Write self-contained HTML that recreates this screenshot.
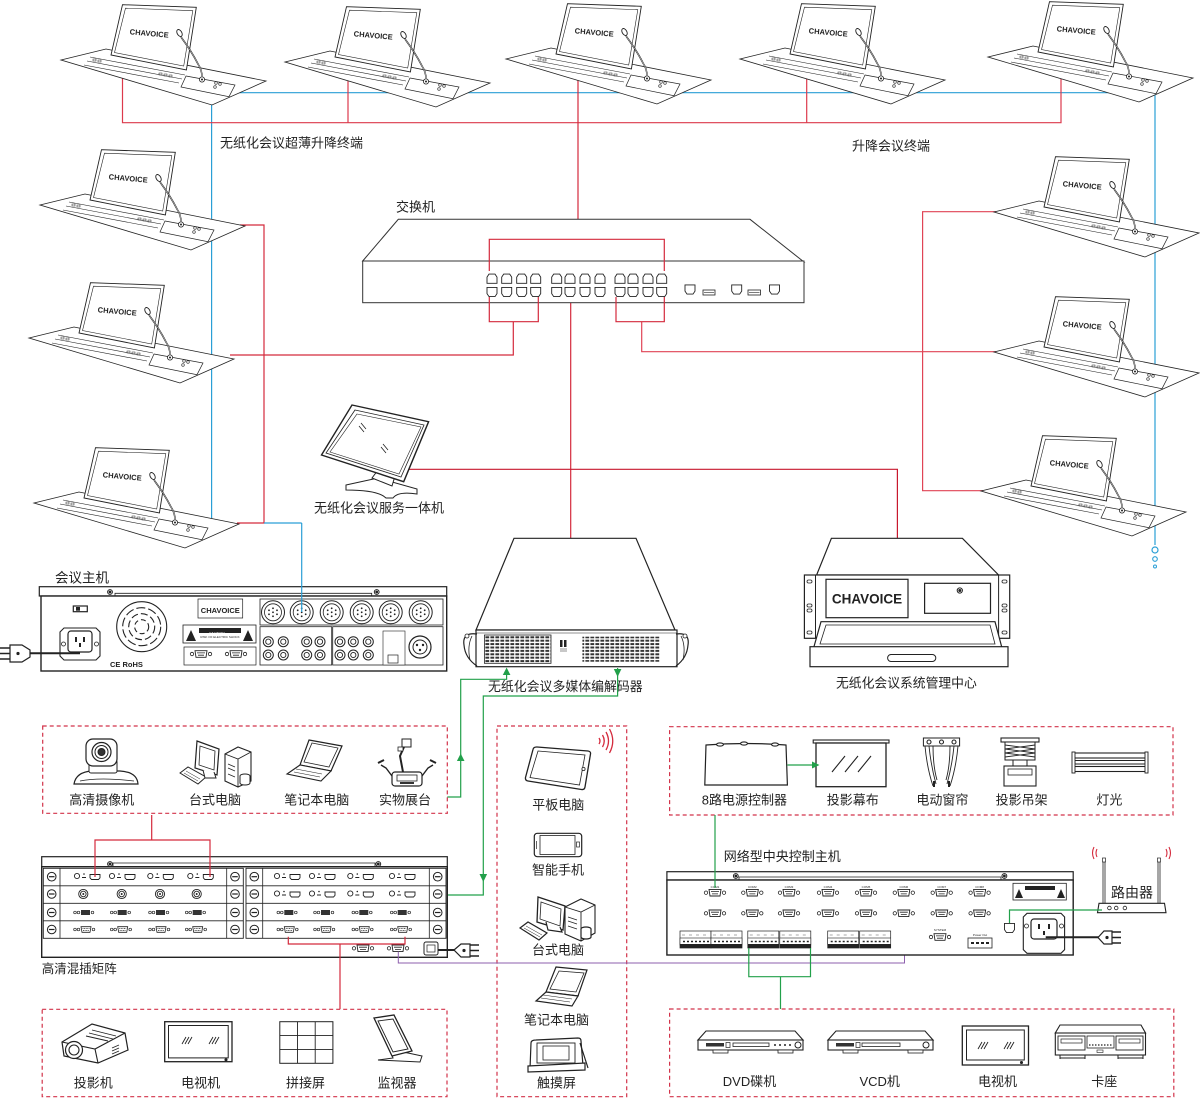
<!DOCTYPE html>
<html><head><meta charset="utf-8">
<style>
html,body{margin:0;padding:0;background:#fff;}
svg{display:block}
text{font-family:"Liberation Sans","Noto Sans CJK SC",sans-serif;fill:#222;}
</style></head>
<body>
<svg width="1200" height="1100" viewBox="0 0 1200 1100" xmlns="http://www.w3.org/2000/svg">
<defs>
<pattern id="vent" width="5" height="3.4" patternUnits="userSpaceOnUse"><rect x="0.4" y="0.5" width="3.8" height="2" fill="#333"/></pattern>
<g id="term">
 <polygon points="0,0 45,-11 205,21 151,45" fill="#fff" stroke="#222" stroke-width="0.8"/>
 <polygon points="61.5,-55.3 135.3,-52.7 125.4,10 50,-5" fill="#fff" stroke="#222" stroke-width="0.9"/>
 <polygon points="64.5,-51.8 131.8,-49.3 122.7,6 53.5,-7.5" fill="none" stroke="#222" stroke-width="0.6"/>
 <path d="M29,-3 L124,15 M26,1 L121,19 M23,5 L118,23" stroke="#222" stroke-width="0.6" fill="none"/>
 <rect x="32" y="-1" width="3" height="2" fill="none" stroke="#222" stroke-width="0.5"/>
 <rect x="37" y="0" width="3" height="2" fill="none" stroke="#222" stroke-width="0.5"/>
 <rect x="98" y="13" width="3" height="2" fill="none" stroke="#222" stroke-width="0.5"/>
 <rect x="103" y="14" width="3" height="2" fill="none" stroke="#222" stroke-width="0.5"/>
 <rect x="108" y="15" width="3" height="2" fill="none" stroke="#222" stroke-width="0.5"/>
 <polygon points="125,16 174,25 168,36.7 120,27" fill="#fff" stroke="#222" stroke-width="0.7"/>
 <circle cx="141" cy="19.5" r="2.6" fill="#fff" stroke="#222" stroke-width="0.8"/>
 <circle cx="141" cy="19.5" r="1" fill="#222"/>
 <circle cx="155" cy="23" r="1.3" fill="none" stroke="#222" stroke-width="0.6"/>
 <circle cx="159" cy="24" r="1.3" fill="none" stroke="#222" stroke-width="0.6"/>
 <circle cx="154" cy="27" r="1.3" fill="none" stroke="#222" stroke-width="0.6"/>
 <text x="88" y="-24" font-size="7.5" font-weight="bold" text-anchor="middle" transform="rotate(5 88 -24)">CHAVOICE</text>
 <path d="M120,-23 Q131,-8 137,4 Q141,10 141,17" stroke="#222" stroke-width="1.5" fill="none"/>
 <path d="M120,-23 Q131,-8 137,4 Q141,10 141,17" stroke="#fff" stroke-width="0.5" fill="none"/>
 <ellipse cx="118.5" cy="-27" rx="2.3" ry="3.8" transform="rotate(-30 118.5 -27)" fill="#fff" stroke="#222" stroke-width="0.9"/>
</g>
<g id="db9"><circle cx="-9" cy="0" r="1.7" fill="none" stroke="#222" stroke-width="0.8"/><path d="M-6,-3.3 H6 L5,3.3 H-5 Z" fill="#fff" stroke="#222" stroke-width="0.9"/><path d="M-4,-1.1 H4 M-3,1.2 H3" stroke="#222" stroke-width="0.8"/><circle cx="9" cy="0" r="1.7" fill="none" stroke="#222" stroke-width="0.8"/></g>
<g id="dvi"><circle cx="-10" cy="0" r="1.3" fill="none" stroke="#222" stroke-width="0.7"/><circle cx="-6.5" cy="0" r="1.3" fill="none" stroke="#222" stroke-width="0.7"/><rect x="-4" y="-2.5" width="9" height="5" fill="#333"/><circle cx="7.5" cy="0" r="1.3" fill="none" stroke="#222" stroke-width="0.7"/></g>
<g id="vga"><circle cx="-10" cy="0" r="1.3" fill="none" stroke="#222" stroke-width="0.7"/><circle cx="-6.5" cy="0" r="1.3" fill="none" stroke="#222" stroke-width="0.7"/><path d="M-4,-2.8 H6 L5,2.8 H-3 Z" fill="#fff" stroke="#222" stroke-width="0.8"/><path d="M-2.5,-1 H4.5 M-2,1 H4" stroke="#222" stroke-width="0.7" stroke-dasharray="1 0.6"/><circle cx="8.5" cy="0" r="1.3" fill="none" stroke="#222" stroke-width="0.7"/></g>
<g id="hdmi"><circle cx="-18" cy="-1" r="2.6" fill="#fff" stroke="#222" stroke-width="0.9"/><circle cx="-11" cy="-3" r="0.8" fill="#222"/><rect x="-13" y="0" width="4" height="1" fill="#222"/><path d="M-5,-2.5 H5 V0.8 L3.5,2.5 H-3.5 L-5,0.8 Z" fill="#fff" stroke="#222" stroke-width="0.9"/></g>
<g id="scr"><circle r="4.3" fill="#fff" stroke="#222" stroke-width="1"/><line x1="-2.8" y1="0" x2="2.8" y2="0" stroke="#222" stroke-width="1.2"/></g>
<g id="bnc"><circle r="4.6" fill="#fff" stroke="#222" stroke-width="0.9"/><circle r="2.8" fill="none" stroke="#222" stroke-width="0.9"/><circle r="1" fill="#222"/></g>
<g id="pt"><path d="M-5,4.6 V-1.6 L-3,-4.6 H3 L5,-1.6 V4.6 Z" fill="#fff" stroke="#222" stroke-width="0.9"/></g>
<g id="pb"><path d="M-5,-4.6 V1.6 L-3,4.6 H3 L5,1.6 V-4.6 Z" fill="#fff" stroke="#222" stroke-width="0.9"/></g>
<g id="rca"><circle r="5" fill="#fff" stroke="#222" stroke-width="1"/><circle r="2.6" fill="none" stroke="#222" stroke-width="0.9"/></g>
<g id="din"><circle r="11.5" fill="#fff" stroke="#222" stroke-width="1"/><circle r="8.5" fill="none" stroke="#222" stroke-width="0.8"/><g fill="#222"><circle cx="-4" cy="-2" r="0.9"/><circle cx="0" cy="-4" r="0.9"/><circle cx="4" cy="-2" r="0.9"/><circle cx="-4" cy="2" r="0.9"/><circle cx="0" cy="0" r="0.9"/><circle cx="4" cy="2" r="0.9"/><circle cx="0" cy="4" r="0.9"/></g></g>
<g id="tblk"><rect x="0" y="0" width="31" height="17" fill="#fff" stroke="#222" stroke-width="0.7"/><rect x="0" y="7" width="31" height="7" fill="#fff" stroke="#222" stroke-width="0.6"/><rect x="0" y="13" width="31" height="4" fill="#222"/><path d="M3,10.5 h2 M7,10.5 h2 M11,10.5 h2 M15,10.5 h2 M19,10.5 h2 M23,10.5 h2 M27,10.5 h2" stroke="#222" stroke-width="1.5"/><path d="M2,4 h3 M9,4 h3 M16,4 h3 M23,4 h3" stroke="#555" stroke-width="0.6"/></g>
</defs>

<!-- ============ CONNECTION LINES (under devices) ============ -->
<g fill="none" stroke-width="1.2">
 <!-- blue -->
 <path d="M211.6,92.7 H1155 V545" stroke="#2a9fd6"/>
 <path d="M211.6,92.7 V520" stroke="#2a9fd6"/>
 <!-- red top -->
 <path d="M122.5,70 V122.7 H1061 V70" stroke="#dc3a4c"/>
 <path d="M348,70 V122.7 M806.7,70 V122.7" stroke="#dc3a4c"/>
 <path d="M578,70 V239.3" stroke="#d42a3c"/>
 <!-- left column -->
 <path d="M240,225 H264 V523 H237" stroke="#d42a3c"/>
 <path d="M230,355 H513.3 V321.7" stroke="#d42a3c"/>
 <!-- right column -->
 <path d="M997,211.7 H922.6 V490.7 H985" stroke="#e04456"/>
 <path d="M641.7,321.7 V351.7 H997" stroke="#e04456"/>
 <!-- middle -->
 <path d="M570.7,297 V538.3" stroke="#d42a3c"/>
 <path d="M400,469.3 H897.4 V538" stroke="#c8182e"/>
</g>
<circle cx="1155" cy="550" r="3" fill="none" stroke="#2a9fd6" stroke-width="1.2"/>
<circle cx="1155" cy="559" r="2.3" fill="none" stroke="#2a9fd6" stroke-width="1.1"/>
<circle cx="1155" cy="566.5" r="1.5" fill="none" stroke="#2a9fd6" stroke-width="1"/>

<!-- ============ TERMINALS ============ -->
<use href="#term" transform="translate(61,60)"/>
<use href="#term" transform="translate(285,62)"/>
<use href="#term" transform="translate(506,59)"/>
<use href="#term" transform="translate(740,59)"/>
<use href="#term" transform="translate(988,57)"/>
<use href="#term" transform="translate(994,212)"/>
<use href="#term" transform="translate(994,352)"/>
<use href="#term" transform="translate(981,491)"/>
<use href="#term" transform="translate(40,205)"/>
<use href="#term" transform="translate(29,338)"/>
<use href="#term" transform="translate(34,503)"/>

<!-- labels top -->
<text x="220" y="147.5" font-size="13">无纸化会议超薄升降终端</text>
<text x="852" y="150.5" font-size="13">升降会议终端</text>
<text x="396" y="211.5" font-size="13">交换机</text>

<!-- ============ SWITCH ============ -->
<polygon points="362.7,261 398.3,219.3 750,219.3 804,262" fill="#fff" stroke="#333" stroke-width="1"/>
<rect x="362.7" y="261" width="441.3" height="41.7" fill="#fff" stroke="#333" stroke-width="1"/>
<g>
 <use href="#pt" x="492" y="278.7"/><use href="#pt" x="506.7" y="278.7"/><use href="#pt" x="521.7" y="278.7"/><use href="#pt" x="535.7" y="278.7"/>
 <use href="#pt" x="556.7" y="278.7"/><use href="#pt" x="570" y="278.7"/><use href="#pt" x="585" y="278.7"/><use href="#pt" x="600" y="278.7"/>
 <use href="#pt" x="620" y="278.7"/><use href="#pt" x="633" y="278.7"/><use href="#pt" x="648" y="278.7"/><use href="#pt" x="661.7" y="278.7"/>
 <use href="#pb" x="492" y="292"/><use href="#pb" x="506.7" y="292"/><use href="#pb" x="521.7" y="292"/><use href="#pb" x="535.7" y="292"/>
 <use href="#pb" x="556.7" y="292"/><use href="#pb" x="570" y="292"/><use href="#pb" x="585" y="292"/><use href="#pb" x="600" y="292"/>
 <use href="#pb" x="620" y="292"/><use href="#pb" x="633" y="292"/><use href="#pb" x="648" y="292"/><use href="#pb" x="661.7" y="292"/>
 <use href="#pb" x="690" y="289.5"/><use href="#pb" x="736.7" y="289.5"/><use href="#pb" x="774.5" y="289.5"/>
 <rect x="703" y="290" width="12" height="5" fill="#fff" stroke="#222" stroke-width="0.8"/><line x1="704" y1="292.5" x2="714" y2="292.5" stroke="#222" stroke-width="0.6"/>
 <rect x="748" y="290" width="12.5" height="5" fill="#fff" stroke="#222" stroke-width="0.8"/><line x1="749" y1="292.5" x2="759.5" y2="292.5" stroke="#222" stroke-width="0.6"/>
</g>
<g fill="none" stroke="#d42a3c" stroke-width="1.2">
 <path d="M489.3,271 V239.3 H664.3 V271"/>
 <path d="M489.3,297 V321.7 H538.3 V297"/>
 <path d="M616,297 V321.7 H664.3 V297"/>
</g>

<!-- ============ SERVICE MONITOR ============ -->
<g stroke="#222" fill="#fff">
 <path d="M346,485 L378,478 L417,489 L417,494 Q398,491 393,498 L386,498 Q378,490 346,490 Z" stroke-width="1"/>
 <path d="M372,478 L378,470 L395,476 L392,486 Z" stroke-width="1"/>
 <polygon points="352,405 428.6,421.7 403.7,481.7 321.5,455" stroke-width="1.4"/>
 <polygon points="355,410 424,425 401,477 326,453" fill="none" stroke-width="0.8"/>
 <polygon points="357,414 421,427 399,474 330,452" fill="none" stroke-width="0.6"/>
 <path d="M359,426 L364,432 M361,423 L366,429 M381,447 L386,453 M383,444 L388,450" stroke-width="0.8"/>
</g>
<text x="314" y="512.5" font-size="13">无纸化会议服务一体机</text>

<!-- ============ MEETING HOST ============ -->
<text x="55" y="582.5" font-size="13.5">会议主机</text>
<g stroke="#222" fill="#fff">
 <rect x="39.3" y="586.7" width="407.4" height="9.3" stroke-width="1.2"/>
 <path d="M115,596 V593.3 H371.7 V596" fill="none" stroke-width="0.8"/>
 <circle cx="110" cy="592" r="2.4" stroke-width="1"/><circle cx="110" cy="592" r="0.9" fill="#222"/>
 <circle cx="376.7" cy="592" r="2.4" stroke-width="1"/><circle cx="376.7" cy="592" r="0.9" fill="#222"/>
 <rect x="41" y="596" width="405.7" height="75" stroke-width="1.4"/>
 <rect x="73.3" y="606" width="14" height="5.7" stroke-width="1.2"/><rect x="76" y="607" width="4" height="3.7" fill="#222" stroke="none"/>
 <path d="M60,632 L64,628 H96 L100,632 V656 L96,660 H64 L60,656 Z" stroke-width="1.1"/>
 <rect x="68" y="631" width="24" height="21" rx="3" stroke-width="1.2"/>
 <circle cx="63.5" cy="644" r="2" stroke-width="0.8"/><circle cx="96.5" cy="644" r="2" stroke-width="0.8"/>
 <rect x="75" y="637" width="2" height="5" fill="#222" stroke="none"/><rect x="83" y="637" width="2" height="5" fill="#222" stroke="none"/><rect x="79" y="643" width="2" height="4" fill="#222" stroke="none"/>
 <g fill="none" stroke-width="1.1">
  <circle cx="141.7" cy="626.7" r="25"/>
  <circle cx="141.7" cy="626.7" r="19" stroke-dasharray="9 3"/>
  <circle cx="141.7" cy="626.7" r="13" stroke-dasharray="7 3"/>
  <circle cx="141.7" cy="626.7" r="7" stroke-dasharray="5 3"/>
 </g>
 <rect x="198" y="599" width="44.7" height="19" stroke-width="0.7"/>
 <rect x="183" y="625" width="73" height="18" stroke-width="0.8"/>
 <rect x="199" y="628" width="42" height="5" fill="#222" stroke="none"/>
 <polygon points="186,641 191,630 196,641" fill="#222" stroke="none"/>
 <polygon points="243,641 248,630 253,641" fill="#222" stroke="none"/>
 <rect x="184" y="647" width="72" height="18" stroke-width="0.7"/>
 <use href="#db9" x="201" y="654"/><use href="#db9" x="236" y="654"/>
 <rect x="260" y="599" width="183" height="26" stroke-width="0.8"/>
 <rect x="260" y="626.7" width="71.7" height="38.3" stroke-width="0.8"/>
 <rect x="332.7" y="626.7" width="110.3" height="38.3" stroke-width="0.8"/>
 <rect x="383" y="631" width="22" height="34" stroke-width="0.6"/>
 <rect x="388" y="655" width="10" height="8" stroke-width="0.7"/>
</g>
<text x="220.3" y="613" font-size="7.5" font-weight="bold" text-anchor="middle">CHAVOICE</text>
<text x="209" y="634.5" font-size="3.5" fill="#fff" style="fill:#fff">CAUTION</text>
<text x="220" y="638" font-size="3" text-anchor="middle">RISK OF ELECTRIC SHOCK</text>
<text x="110" y="667" font-size="7.5" font-weight="bold">CE RoHS</text>
<use href="#din" x="273" y="612.3"/><use href="#din" x="301.7" y="612.3"/><use href="#din" x="331.7" y="612.3"/>
<use href="#din" x="361.7" y="612.3"/><use href="#din" x="390.7" y="612.3"/><use href="#din" x="420.7" y="612.3"/>
<use href="#rca" x="268.3" y="641.7"/><use href="#rca" x="283.3" y="641.7"/><use href="#rca" x="268.3" y="655"/><use href="#rca" x="283.3" y="655"/>
<use href="#rca" x="306.7" y="641.7"/><use href="#rca" x="320" y="641.7"/><use href="#rca" x="306.7" y="655"/><use href="#rca" x="320" y="655"/>
<use href="#rca" x="340" y="641.7"/><use href="#rca" x="353.3" y="641.7"/><use href="#rca" x="368.3" y="641.7"/>
<use href="#rca" x="340" y="655"/><use href="#rca" x="353.3" y="655"/><use href="#rca" x="368.3" y="655"/>
<circle cx="420" cy="647" r="11" fill="#fff" stroke="#222" stroke-width="1.2"/>
<circle cx="420" cy="647" r="7" fill="#fff" stroke="#222" stroke-width="1"/>
<circle cx="417" cy="645" r="1.2" fill="#222"/><circle cx="423" cy="645" r="1.2" fill="#222"/><circle cx="420" cy="650" r="1.2" fill="#222"/>
<!-- plug -->
<path d="M30,653.3 H80" stroke="#222" stroke-width="2" fill="none"/>
<path d="M10,645 H22 L30,650 V657 L22,662 H10 Z" fill="#fff" stroke="#222" stroke-width="1.2"/>
<circle cx="18" cy="653.5" r="1.6" fill="#222"/>
<path d="M0,648 H10 M0,653.5 H10 M0,659 H10" stroke="#222" stroke-width="1.5"/>
<path d="M301.7,523 V612" stroke="#2a9fd6" stroke-width="1.2" fill="none"/>
<path d="M264,523 H301.7" stroke="#2a9fd6" stroke-width="1.2" fill="none"/>

<!-- ============ ENCODER ============ -->
<g stroke="#222" fill="#fff">
 <polygon points="514,538.3 636,538.3 675,630 476,630" stroke-width="1.2"/>
 <rect x="476" y="630" width="201" height="36.7" stroke-width="1.2"/>
 <line x1="476" y1="633" x2="677" y2="633" stroke-width="0.6"/>
 <path d="M477,634 Q462,632 464,645 Q465,658 477,666" fill="none" stroke-width="1.2"/>
 <path d="M472,636 Q467,646 470,660" fill="none" stroke-width="0.8"/>
 <circle cx="467" cy="636" r="2" stroke-width="0.8"/>
 <path d="M676,634 Q690,632 688,645 Q687,658 676,666" fill="none" stroke-width="1.2"/>
 <path d="M681,636 Q686,646 683,660" fill="none" stroke-width="0.8"/>
 <circle cx="685" cy="636" r="2" stroke-width="0.8"/>
 <rect x="484.4" y="635" width="66.6" height="28.3" fill="url(#vent)" stroke-width="0.8"/>
 <rect x="582.4" y="636.7" width="77.6" height="25" fill="url(#vent)" stroke-width="0"/>
 <rect x="560" y="640" width="2.5" height="7" fill="#222" stroke="none"/><rect x="564" y="640" width="2.5" height="7" fill="#222" stroke="none"/>
 <path d="M560,649 h7 M560,651 h7" stroke-width="0.6"/>
</g>
<text x="488" y="691" font-size="12.9">无纸化会议多媒体编解码器</text>

<!-- ============ MGMT CENTER ============ -->
<g stroke="#222" fill="#fff">
 <polygon points="831.4,538.3 962.4,538.3 998.6,575 816.6,575" stroke-width="1.2"/>
 <rect x="804.4" y="575" width="205.3" height="63.3" stroke-width="1.2"/>
 <line x1="815.5" y1="575" x2="815.5" y2="638.3" stroke-width="1"/>
 <line x1="998.6" y1="575" x2="998.6" y2="638.3" stroke-width="1"/>
 <rect x="807" y="580" width="5" height="3" rx="1.5" stroke-width="0.8"/><rect x="807" y="604" width="5" height="3" rx="1.5" stroke-width="0.8"/><rect x="807" y="609" width="5" height="3" rx="1.5" stroke-width="0.8"/><rect x="807" y="631" width="5" height="3" rx="1.5" stroke-width="0.8"/>
 <rect x="1002" y="580" width="5" height="3" rx="1.5" stroke-width="0.8"/><rect x="1002" y="604" width="5" height="3" rx="1.5" stroke-width="0.8"/><rect x="1002" y="609" width="5" height="3" rx="1.5" stroke-width="0.8"/><rect x="1002" y="631" width="5" height="3" rx="1.5" stroke-width="0.8"/>
 <rect x="826" y="579.3" width="82" height="38.4" stroke-width="1.2"/>
 <rect x="924.6" y="583.3" width="65.9" height="30" stroke-width="1.2"/>
 <circle cx="959.8" cy="590.5" r="2.6" stroke-width="1"/><circle cx="959.8" cy="590.5" r="1" fill="#222"/>
 <polygon points="821,621.7 995,621.7 1002,648 813.6,648" stroke-width="1.2"/>
 <polygon points="826,625 990,625 995,644 820,644" fill="none" stroke-width="0.8"/>
 <rect x="810" y="646.7" width="198" height="20" stroke-width="1.2"/>
 <rect x="887.6" y="654.5" width="48.2" height="7" rx="3.5" stroke-width="1"/>
</g>
<text x="867" y="603.5" font-size="13.5" font-weight="bold" text-anchor="middle">CHAVOICE</text>
<text x="836" y="687.5" font-size="12.8">无纸化会议系统管理中心</text>

<!-- ============ GREEN ARROWS ENCODER ============ -->
<g fill="none" stroke="#22a04a" stroke-width="1.2">
 <path d="M447.3,797 H460.7 V679.3 H506.6 V673"/>
 <path d="M418.3,895 H483.3 V696 H617.6 V668"/>
</g>
<g fill="#22a04a">
 <polygon points="506.6,667.5 502.8,675 510.4,675"/>
 <polygon points="460.7,753.5 456.9,761 464.5,761"/>
 <polygon points="613.8,669 621.4,669 617.6,677"/>
 <polygon points="479.5,874 487.1,874 483.3,882"/>
</g>

<!-- ============ DASHED BOXES ============ -->
<g fill="none" stroke="#d2334a" stroke-width="1.2" stroke-dasharray="4 3">
 <rect x="42.7" y="726" width="404.6" height="87.3"/>
 <rect x="497" y="726" width="129.7" height="370.7"/>
 <rect x="669.6" y="726.7" width="503.4" height="88.3"/>
 <rect x="42.2" y="1009.3" width="404.8" height="87.4"/>
 <rect x="669.6" y="1009" width="504.2" height="87.7"/>
</g>

<!-- ============ TOP LEFT BOX ICONS ============ -->
<g stroke="#222" fill="#fff" stroke-width="1">
 <!-- camera -->
 <path d="M74,784 Q76,772 92,771 L120,771 Q137,772 138,784 Z" stroke-width="1.2"/>
 <path d="M80,781 Q100,777 134,781" fill="none" stroke-width="0.7"/>
 <rect x="89" y="760" width="28" height="13" rx="2"/>
 <rect x="86" y="739" width="31" height="27" rx="7" stroke-width="1.2"/>
 <circle cx="101.5" cy="752" r="9.5" stroke-width="1.2"/>
 <circle cx="101.5" cy="752" r="6.5"/>
 <circle cx="101.5" cy="752" r="3.5" fill="#333"/>
 <!-- desktop -->
 <polygon points="180,773 188,767 206,777 198,784"/>
 <path d="M184,773 L198,781 M186,771 L200,779" fill="none" stroke-width="0.5"/>
 <polygon points="197,741 219,749 217,775 195,768" stroke-width="1.2"/>
 <polygon points="200,746 215,751 214,770 199,765" fill="none" stroke-width="0.8"/>
 <path d="M203,770 L205,778 L216,778 L214,772" stroke-width="1"/>
 <polygon points="225,754 238,747 251,752 251,781 238,787 225,781" stroke-width="1.1"/>
 <path d="M238,759 V787 M225,754 L238,759 L251,752" fill="none" stroke-width="0.9"/>
 <path d="M228,764 L235,767 M228,768 L235,771 M228,774 L235,777" fill="none" stroke-width="0.7"/>
 <ellipse cx="245" cy="776" rx="5" ry="2"/><path d="M240,776 V783 A5,2 0 0 0 250,783 V776" />
 <!-- laptop -->
 <polygon points="309,740 342,746 331,771 300,765" stroke-width="1.2"/>
 <polygon points="312,743 338,748 329,767 304,762" fill="none" stroke-width="0.8"/>
 <polygon points="300,765 331,771 321,781 287,774" stroke-width="1.1"/>
 <path d="M296,769 L322,774 M294,772 L320,777" fill="none" stroke-width="0.6"/>
 <!-- visualizer -->
 <rect x="392" y="772" width="30" height="14" rx="3" stroke-width="1.2"/>
 <rect x="397" y="775" width="20" height="6" fill="none" stroke-width="0.8"/>
 <rect x="400" y="782" width="14" height="2" fill="#333" stroke="none"/>
 <path d="M403,772 L400,756 L404,747" fill="none" stroke-width="2"/>
 <rect x="402" y="739" width="9" height="8" stroke-width="1"/>
 <rect x="398" y="747" width="5" height="4" stroke-width="0.8"/>
 <path d="M392,776 L386,768 L381,765 M422,776 L428,768 L433,765" fill="none" stroke-width="1.4"/>
 <path d="M378,763 L384,760 M430,760 L436,763" fill="none" stroke-width="2"/>
</g>
<g font-size="13" text-anchor="middle">
 <text x="101.7" y="804.5">高清摄像机</text>
 <text x="215" y="804.5">台式电脑</text>
 <text x="316.7" y="804.5">笔记本电脑</text>
 <text x="405" y="804.5">实物展台</text>
</g>

<!-- ============ MATRIX ============ -->
<g stroke="#222" fill="#fff">
 <rect x="41.7" y="856.7" width="405.6" height="10" stroke-width="1.2"/>
 <path d="M113,866.7 V863 H375 V866.7" fill="none" stroke-width="0.8"/>
 <circle cx="110" cy="864" r="2.4"/><circle cx="110" cy="864" r="0.9" fill="#222"/>
 <circle cx="378.3" cy="864" r="2.4"/><circle cx="378.3" cy="864" r="0.9" fill="#222"/>
 <rect x="41.7" y="866.7" width="405.6" height="90.6" stroke-width="1.4"/>
 <rect x="43.3" y="868.3" width="200" height="70" stroke-width="0.9"/>
 <rect x="246" y="868.3" width="200" height="70" stroke-width="0.9"/>
 <path d="M60,868.3 V938.3 M226.7,868.3 V938.3 M262.7,868.3 V938.3 M429.3,868.3 V938.3" stroke-width="0.8"/>
 <path d="M43.3,885.8 H243.3 M43.3,903.3 H243.3 M43.3,920.8 H243.3 M246,885.8 H446 M246,903.3 H446 M246,920.8 H446" stroke-width="0.8"/>
</g>
<g>
 <use href="#scr" x="51.7" y="876.7"/><use href="#scr" x="51.7" y="894"/><use href="#scr" x="51.7" y="912.5"/><use href="#scr" x="51.7" y="929.5"/>
 <use href="#scr" x="235" y="876.7"/><use href="#scr" x="235" y="894"/><use href="#scr" x="235" y="912.5"/><use href="#scr" x="235" y="929.5"/>
 <use href="#scr" x="254.3" y="876.7"/><use href="#scr" x="254.3" y="894"/><use href="#scr" x="254.3" y="912.5"/><use href="#scr" x="254.3" y="929.5"/>
 <use href="#scr" x="437.7" y="876.7"/><use href="#scr" x="437.7" y="894"/><use href="#scr" x="437.7" y="912.5"/><use href="#scr" x="437.7" y="929.5"/>
 <use href="#hdmi" x="95" y="877"/><use href="#hdmi" x="130" y="877"/><use href="#hdmi" x="168.3" y="877"/><use href="#hdmi" x="208.3" y="877"/>
 <use href="#bnc" x="83.3" y="894"/><use href="#bnc" x="121.7" y="894"/><use href="#bnc" x="160" y="894"/><use href="#bnc" x="196.7" y="894"/>
 <use href="#dvi" x="85" y="912.5"/><use href="#dvi" x="121.7" y="912.5"/><use href="#dvi" x="160" y="912.5"/><use href="#dvi" x="196.7" y="912.5"/>
 <use href="#vga" x="85" y="929.5"/><use href="#vga" x="121.7" y="929.5"/><use href="#vga" x="160" y="929.5"/><use href="#vga" x="196.7" y="929.5"/>
 <use href="#hdmi" x="295" y="877"/><use href="#hdmi" x="330" y="877"/><use href="#hdmi" x="368.3" y="877"/><use href="#hdmi" x="410" y="877"/>
 <use href="#hdmi" x="295" y="894.5"/><use href="#hdmi" x="330" y="894.5"/><use href="#hdmi" x="368.3" y="894.5"/><use href="#hdmi" x="410" y="894.5"/>
 <use href="#dvi" x="288.3" y="912.5"/><use href="#dvi" x="325" y="912.5"/><use href="#dvi" x="363.3" y="912.5"/><use href="#dvi" x="401.7" y="912.5"/>
 <use href="#vga" x="288.3" y="929.5"/><use href="#vga" x="325" y="929.5"/><use href="#vga" x="363.3" y="929.5"/><use href="#vga" x="401.7" y="929.5"/>
 <use href="#db9" x="363" y="948.3"/><use href="#db9" x="398" y="948.3"/>
 <rect x="424" y="942" width="14" height="13" rx="2" fill="#fff" stroke="#222" stroke-width="1"/>
 <rect x="427" y="945" width="8" height="7" fill="none" stroke="#222" stroke-width="0.7"/>
</g>
<!-- matrix plug -->
<path d="M438,950 H456" stroke="#222" stroke-width="2"/>
<path d="M454,950 L461,944 H470 V957 H461 Z" fill="#fff" stroke="#222" stroke-width="1.2"/>
<circle cx="464" cy="950.5" r="1.6" fill="#222"/>
<path d="M470,945 H479 M470,950.5 H479 M470,956 H479" stroke="#222" stroke-width="1.5"/>
<text x="41.7" y="973" font-size="12.5">高清混插矩阵</text>

<!-- lines over matrix -->
<g fill="none" stroke-width="1.2">
 <path d="M151.7,815 V840 M95,877 V840 H210 V877" stroke="#d42a3c"/>
 <path d="M288.3,936.7 V944 H405 V936.7 M340,944 V1009" stroke="#d42a3c"/>
 <path d="M398.3,951.7 V963 H904.5 V917" stroke="#8e5fae" stroke-width="1"/>
</g>

<!-- ============ BOTTOM LEFT BOX ICONS ============ -->
<g stroke="#222" fill="#fff" stroke-width="1.1">
 <!-- projector -->
 <path d="M62,1042 L92,1024 L125,1033 L128,1050 L98,1063 L64,1056 Z" stroke-width="1.2"/>
 <path d="M62,1042 L95,1049 L125,1033 M95,1049 L98,1063" fill="none"/>
 <path d="M92,1030 L116,1036 M89,1033 L113,1039 M86,1036 L108,1041" fill="none" stroke-width="0.9"/>
 <circle cx="74" cy="1050" r="8.5" stroke-width="1.2"/>
 <circle cx="74" cy="1050" r="5"/>
 <path d="M112,1048 L119,1045 M112,1051 L119,1048 M112,1054 L119,1051" fill="none" stroke-width="0.8"/>
 <!-- TV -->
 <rect x="164.7" y="1021.7" width="67.3" height="40" stroke-width="1.3"/>
 <rect x="168.5" y="1025.5" width="59.7" height="32.4" stroke-width="1"/>
 <path d="M182,1044 L186,1037 M185,1044 L189,1037 M188,1044 L192,1037 M209,1044 L213,1037 M212,1044 L216,1037 M215,1044 L219,1037" fill="none" stroke-width="0.9"/>
 <circle cx="226" cy="1059.8" r="1" fill="#222"/>
 <!-- tile -->
 <rect x="279.8" y="1021.7" width="53.1" height="41.6" fill="#fff" stroke-width="1"/>
 <path d="M297.5,1021.7 V1063.3 M315.2,1021.7 V1063.3 M279.8,1035.6 H332.9 M279.8,1049.4 H332.9" fill="none" stroke-width="0.9"/>
 <!-- monitor -->
 <path d="M390,1050 L393,1058 L378,1060 L420,1062 L422,1056 L408,1053 Z" stroke-width="1"/>
 <polygon points="374,1018 394,1015 412,1051 392,1056" stroke-width="1.3"/>
 <polygon points="378,1021 393,1019 408,1049 393,1052" fill="none" stroke-width="0.9"/>
</g>
<g font-size="13" text-anchor="middle">
 <text x="93.3" y="1087.5">投影机</text>
 <text x="200.6" y="1087.5">电视机</text>
 <text x="305.5" y="1087.5">拼接屏</text>
 <text x="397" y="1087.5">监视器</text>
</g>

<!-- ============ MIDDLE BOX ICONS ============ -->
<g stroke="#222" fill="#fff" stroke-width="1.2">
 <!-- tablet -->
 <path d="M537,747 L588,751 Q591,751.5 590.5,754 L585,787 Q584.5,790 581.5,789.5 L528,781 Q525,780.5 525.5,777.5 L533,749.5 Q533.5,746.8 537,747 Z" stroke-width="1.3"/>
 <polygon points="538,751 585,755 579.5,785 530,777.5" fill="none" stroke-width="0.8"/>
 <circle cx="583.5" cy="769" r="1.6" stroke-width="0.8"/>
 <!-- phone -->
 <rect x="534.3" y="833.3" width="47.4" height="23.4" rx="3" stroke-width="1.2"/>
 <rect x="540" y="835.5" width="35" height="19" fill="none" stroke-width="0.8"/>
 <rect x="576.5" y="842" width="3" height="5" stroke-width="0.7"/>
 <path d="M536.5,841 V849" stroke-width="0.7"/>
 <!-- desktop -->
 <polygon points="520,928 528,922 547,933 539,940"/>
 <path d="M524,928 L540,937 M526,926 L542,935" fill="none" stroke-width="0.5"/>
 <polygon points="538,897 565,906 563,930 537,922" stroke-width="1.3"/>
 <polygon points="541,902 561,909 560,926 540,919" fill="none" stroke-width="0.8"/>
 <path d="M546,922 L548,930 L562,932 L560,927" />
 <polygon points="565,907 581,899 595,905 595,933 581,941 565,934" stroke-width="1.1"/>
 <path d="M581,912 V941 M565,907 L581,912 L595,905" fill="none" stroke-width="0.9"/>
 <path d="M568,917 L577,920 M568,921 L577,924 M568,926 L577,929" fill="none" stroke-width="0.7"/>
 <ellipse cx="586" cy="929" rx="5" ry="2"/><path d="M581,929 V937 A5,2 0 0 0 591,937 V929"/>
 <!-- laptop -->
 <polygon points="556,967 587,970 578,996 546,992" stroke-width="1.2"/>
 <polygon points="559,971 584,973 576,992 550,989" fill="none" stroke-width="0.8"/>
 <polygon points="546,992 578,996 572,1006 536,1001"/>
 <path d="M543,995 L572,999 M541,998 L570,1002" fill="none" stroke-width="0.6"/>
 <!-- touch screen -->
 <path d="M536,1040 L578,1038 Q581,1038 581,1041 L583,1066 L530,1069 L531,1043 Q531,1040 536,1040 Z" stroke-width="1.2"/>
 <rect x="537" y="1043" width="38" height="20" fill="none" stroke-width="0.9"/>
 <rect x="543" y="1046" width="26" height="14" fill="none" stroke-width="0.8"/>
 <path d="M528,1066 L585,1063 L585,1070 L528,1072 Z"/>
 <path d="M580,1043 L588,1068" fill="none" stroke-width="1.2"/>
</g>
<g fill="none" stroke="#d42a3c" stroke-width="1.3">
 <path d="M599,738 Q601,741 599,744"/>
 <path d="M602.5,735 Q606,741 602.5,747"/>
 <path d="M606,732 Q611,741 606,750"/>
 <path d="M609.5,729 Q616,741 609.5,753"/>
</g>
<g font-size="13" text-anchor="middle">
 <text x="558.3" y="809.5">平板电脑</text>
 <text x="558" y="874.5">智能手机</text>
 <text x="558" y="954.5">台式电脑</text>
 <text x="556.5" y="1024.5">笔记本电脑</text>
 <text x="556.5" y="1087.5">触摸屏</text>
</g>

<!-- ============ TOP RIGHT BOX ICONS ============ -->
<g stroke="#222" fill="#fff" stroke-width="1.1">
 <!-- power ctrl -->
 <path d="M706,745 Q746,742 786,745 L787.4,785 L704.8,785 Z" stroke-width="1.2"/>
 <ellipse cx="720" cy="744.5" rx="3.5" ry="1.6"/><ellipse cx="744" cy="743.5" rx="3.5" ry="1.6"/><ellipse cx="775" cy="744.5" rx="3.5" ry="1.6"/>
 <!-- projection screen -->
 <rect x="813.2" y="740" width="75.8" height="3" fill="#fff" stroke-width="1.1"/>
 <rect x="816" y="743" width="70" height="43.7" stroke-width="1.3"/>
 <path d="M832,772 L845,756 M845,772 L858,756 M858,772 L871,756" fill="none" stroke-width="1.1"/>
 <!-- curtain -->
 <rect x="923.4" y="738" width="36.2" height="8" stroke-width="1"/>
 <circle cx="929" cy="742" r="2" fill="none"/><circle cx="941.5" cy="742" r="2" fill="none"/><circle cx="954" cy="742" r="2" fill="none"/>
 <path d="M925,746 Q927,768 933,786 M929,746 Q931,766 936,784 M933,746 Q933,766 937,780" fill="none" stroke-width="0.9"/>
 <path d="M958,746 Q956,768 950,786 M954,746 Q952,766 947,784 M950,746 Q950,766 946,780" fill="none" stroke-width="0.9"/>
 <path d="M934,781 L934,787 M949,781 L949,787" stroke-width="2"/>
 <!-- projector lift -->
 <rect x="1001" y="738" width="38" height="4" stroke-width="1.1"/>
 <rect x="1005" y="742" width="30" height="18" stroke-width="1"/>
 <path d="M1005,745 L1035,749 L1005,753 L1035,757 M1035,745 L1005,749 L1035,753 L1005,757" fill="none" stroke-width="0.9"/>
 <path d="M1013,760 V767 M1027,760 V767" stroke-width="1"/>
 <rect x="1004" y="766" width="32" height="20" stroke-width="1.1"/>
 <rect x="1008" y="769" width="24" height="6" fill="none" stroke-width="0.8"/>
 <!-- light -->
 <rect x="1073" y="753" width="74" height="5" stroke-width="1.1"/>
 <rect x="1075" y="760.5" width="70" height="3.5" stroke-width="1"/>
 <rect x="1073" y="766.5" width="74" height="5" stroke-width="1.1"/>
 <rect x="1072" y="752" width="3" height="21" fill="#fff" stroke-width="0.9"/>
 <rect x="1145" y="752" width="3" height="21" fill="#fff" stroke-width="0.9"/>
</g>
<path d="M787.4,765 H817" stroke="#22a04a" stroke-width="1.2"/>
<polygon points="812,761.5 812,768.5 819.5,765" fill="#22a04a"/>
<g font-size="13" text-anchor="middle">
 <text x="744.4" y="804.5">8路电源控制器</text>
 <text x="852.8" y="804.5">投影幕布</text>
 <text x="942.4" y="804.5">电动窗帘</text>
 <text x="1021.6" y="804.5">投影吊架</text>
 <text x="1109.4" y="804.5">灯光</text>
</g>

<!-- ============ CONTROL HOST ============ -->
<text x="723.7" y="861" font-size="13">网络型中央控制主机</text>
<g stroke="#222" fill="#fff">
 <rect x="666.9" y="871.7" width="406.3" height="8.3" stroke-width="1.2"/>
 <path d="M739,880 V877 H1001 V880" fill="none" stroke-width="0.8"/>
 <circle cx="735.8" cy="876" r="2.4"/><circle cx="735.8" cy="876" r="0.9" fill="#222"/>
 <circle cx="1004.4" cy="876" r="2.4"/><circle cx="1004.4" cy="876" r="0.9" fill="#222"/>
 <rect x="666.9" y="880" width="406.3" height="75" stroke-width="1.4"/>
 <rect x="1013" y="883.3" width="53.3" height="16.7" stroke-width="0.8"/>
 <rect x="1025" y="886" width="30" height="4" fill="#222" stroke="none"/>
 <polygon points="1015,898 1019,889 1023,898" fill="#222" stroke="none"/>
 <polygon points="1057,898 1061,889 1065,898" fill="#222" stroke="none"/>
</g>
<g>
 <use href="#db9" x="715" y="892.7"/><use href="#db9" x="752.3" y="892.7"/><use href="#db9" x="789" y="892.7"/><use href="#db9" x="828" y="892.7"/>
 <use href="#db9" x="866" y="892.7"/><use href="#db9" x="903.8" y="892.7"/><use href="#db9" x="941.7" y="892.7"/><use href="#db9" x="979.6" y="892.7"/>
 <use href="#db9" x="715" y="913.3"/><use href="#db9" x="752.3" y="913.3"/><use href="#db9" x="789" y="913.3"/><use href="#db9" x="828" y="913.3"/>
 <use href="#db9" x="866" y="913.3"/><use href="#db9" x="903.8" y="913.3"/><use href="#db9" x="941.7" y="913.3"/><use href="#db9" x="979.6" y="913.3"/>
 <use href="#tblk" x="680" y="931"/><use href="#tblk" x="711" y="931"/>
 <use href="#tblk" x="747.8" y="931"/><use href="#tblk" x="779.8" y="931"/>
 <use href="#tblk" x="827.7" y="931"/><use href="#tblk" x="859.7" y="931"/>
 <use href="#db9" x="940" y="937"/>
 <rect x="968" y="938" width="24" height="10" fill="#fff" stroke="#222" stroke-width="0.8"/>
 <path d="M971,943 h3 M976,943 h3 M981,943 h3 M986,943 h3" stroke="#222" stroke-width="2"/>
 <use href="#pb" x="1009.5" y="928"/>
 <path d="M1023.3,917 L1027,913.3 H1061 L1064.6,917 V949.6 L1061,953.3 H1027 L1023.3,949.6 Z" fill="#fff" stroke="#222" stroke-width="1.1"/>
 <rect x="1031" y="919" width="26" height="20" rx="3" fill="#fff" stroke="#222" stroke-width="1.2"/>
 <circle cx="1026.5" cy="926" r="2" fill="none" stroke="#222" stroke-width="0.8"/><circle cx="1061.5" cy="926" r="2" fill="none" stroke="#222" stroke-width="0.8"/>
 <rect x="1038" y="924" width="2" height="5" fill="#222"/><rect x="1048" y="924" width="2" height="5" fill="#222"/><rect x="1043" y="931" width="2" height="4" fill="#222"/>
</g>
<g font-size="3" text-anchor="middle" fill="#333">
 <text x="715" y="888">COM1</text><text x="752.3" y="888">COM2</text><text x="789" y="888">COM3</text><text x="828" y="888">COM4</text>
 <text x="866" y="888">COM5</text><text x="903.8" y="888">COM6</text><text x="941.7" y="888">COM7</text><text x="979.6" y="888">COM8</text>
 <text x="940" y="931">SYSTEM</text><text x="980" y="936">Power Out</text>
</g>
<!-- control host plug -->
<path d="M1045.7,937.3 H1100" stroke="#222" stroke-width="2"/>
<path d="M1098,937.5 L1104,931 H1112 V944 H1104 Z" fill="#fff" stroke="#222" stroke-width="1.2"/>
<circle cx="1107" cy="937.5" r="1.6" fill="#222"/>
<path d="M1112,932 H1121 M1112,937.5 H1121 M1112,943 H1121" stroke="#222" stroke-width="1.5"/>

<!-- router -->
<g stroke="#222" fill="#fff">
 <path d="M1103,860 V904 M1105,860 V904 M1158,860 V904 M1160,860 V904" stroke-width="0.8"/>
 <rect x="1102.5" y="858" width="3" height="4" stroke-width="0.7"/>
 <rect x="1157.5" y="858" width="3" height="4" stroke-width="0.7"/>
 <path d="M1099,903.3 H1164.5 L1166,912.7 H1097.5 Z" stroke-width="1.1"/>
 <circle cx="1109.4" cy="908" r="1.8" stroke-width="0.8"/><circle cx="1116.2" cy="908" r="1.8" stroke-width="0.8"/><circle cx="1124.9" cy="908" r="1.8" stroke-width="0.8"/>
</g>
<g fill="none" stroke="#d42a3c" stroke-width="1.1">
 <path d="M1097,849 Q1095,853 1097,857 M1094,847 Q1091,853 1094,859"/>
 <path d="M1166,849 Q1168,853 1166,857 M1169,847 Q1172,853 1169,859"/>
</g>
<text x="1111" y="897.5" font-size="14">路由器</text>

<!-- green lines control -->
<g fill="none" stroke="#22a04a" stroke-width="1.2">
 <path d="M715,815 V888"/>
 <path d="M1009.5,923 V910 H1102"/>
 <path d="M748.8,948 V976.7 H810.5 V948 M780.5,976.7 V1009"/>
</g>

<!-- ============ BOTTOM RIGHT ICONS ============ -->
<g stroke="#222" fill="#fff" stroke-width="1.1">
 <!-- DVD -->
 <path d="M706,1031 H795 L803,1040 H698 Z"/>
 <rect x="698" y="1040" width="105" height="10"/>
 <rect x="713" y="1050" width="15" height="3" stroke-width="0.8"/><rect x="778" y="1050" width="15" height="3" stroke-width="0.8"/>
 <rect x="706" y="1043" width="18" height="3.5" fill="#333" stroke="none"/>
 <rect x="726" y="1042.5" width="4" height="5" stroke-width="0.7"/>
 <rect x="733" y="1043" width="36" height="3.5" stroke-width="0.8"/>
 <path d="M774,1045 h2 M779,1045 h2 M784,1045 h2 M789,1045 h2" stroke-width="1.6"/>
 <circle cx="798" cy="1045" r="3" stroke-width="1"/>
 <!-- VCD -->
 <path d="M836,1031 H925 L933,1040 H828 Z"/>
 <rect x="828" y="1040" width="105" height="10"/>
 <rect x="843" y="1050" width="15" height="3" stroke-width="0.8"/><rect x="908" y="1050" width="15" height="3" stroke-width="0.8"/>
 <rect x="836" y="1043" width="18" height="3.5" fill="#333" stroke="none"/>
 <rect x="856" y="1042.5" width="4" height="5" stroke-width="0.7"/>
 <rect x="862" y="1043" width="38" height="3.5" stroke-width="0.8"/>
 <circle cx="926" cy="1045" r="3" stroke-width="1"/>
 <!-- TV -->
 <rect x="962.3" y="1026" width="66.2" height="39" stroke-width="1.3"/>
 <rect x="966.5" y="1030" width="57.8" height="30" stroke-width="1"/>
 <path d="M978,1049 L982,1042 M981,1049 L985,1042 M984,1049 L988,1042 M1004,1049 L1008,1042 M1007,1049 L1011,1042 M1010,1049 L1014,1042" fill="none" stroke-width="0.9"/>
 <circle cx="1021.5" cy="1062.5" r="1" fill="#222"/>
 <!-- cassette -->
 <path d="M1060,1025 H1141 L1145.5,1033 H1055.3 Z"/>
 <rect x="1055.3" y="1033" width="90.2" height="22"/>
 <rect x="1058" y="1036" width="27" height="14" stroke-width="0.9"/>
 <rect x="1061" y="1039" width="21" height="4" fill="none" stroke-width="0.7"/>
 <rect x="1116" y="1036" width="27" height="14" stroke-width="0.9"/>
 <rect x="1119" y="1039" width="21" height="4" fill="none" stroke-width="0.7"/>
 <rect x="1087" y="1036" width="27" height="12" fill="none" stroke-width="0.8"/>
 <path d="M1089,1045 h23" stroke-width="1.2" stroke-dasharray="1.5 1.5"/>
 <rect x="1097" y="1050" width="6" height="2.5" stroke-width="0.6"/>
 <path d="M1060,1055 V1059 M1085,1055 V1059 M1118,1055 V1059 M1143,1055 V1059 M1060,1058 H1085 M1118,1058 H1143" stroke-width="1"/>
</g>
<g font-size="13" text-anchor="middle">
 <text x="749.5" y="1086">DVD碟机</text>
 <text x="879.7" y="1086">VCD机</text>
 <text x="997.5" y="1086">电视机</text>
 <text x="1104.2" y="1086">卡座</text>
</g>
</svg>
</body></html>
